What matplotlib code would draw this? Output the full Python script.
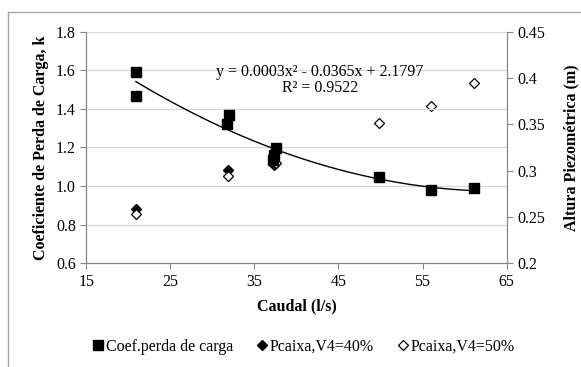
import numpy as np
import matplotlib.pyplot as plt
from matplotlib.lines import Line2D

# Caudal (l/s) e coeficiente de perda de carga
caudal_k = [20.9, 20.9, 31.7, 31.95, 37.2, 37.3, 37.6, 49.8, 55.95, 61.1]
coef_k = [1.59, 1.468, 1.32, 1.368, 1.135, 1.16, 1.196, 1.046, 0.98, 0.989]

# Altura piezométrica na caixa (m)
caudal_40 = [20.9, 31.8, 37.3]
pcaixa_40 = [0.2586, 0.3007, 0.306]
caudal_50 = [20.9, 31.8, 37.6, 49.8, 55.95, 61.1]
pcaixa_50 = [0.2535, 0.2945, 0.3085, 0.351, 0.370, 0.395]

eq_text = "y = 0.0003x² - 0.0365x + 2.1797"
r2_text = "R² = 0.9522"

plt.rcParams["font.family"] = ["Liberation Serif", "DejaVu Serif"]
plt.rcParams["font.size"] = 11.5

grey = "#868686"

fig = plt.figure(figsize=(5.81, 3.67), dpi=100)
ax = fig.add_axes([0.1485, 0.2826, 0.7235, 0.631])
ax2 = ax.twinx()

# polynomial trendline (2nd order) over the measured range
coefs = np.polyfit(caudal_k, coef_k, 2)
xs = np.linspace(min(caudal_k), max(caudal_k), 200)
ax.plot(xs, np.polyval(coefs, xs), color="black", lw=1, zorder=3)

ax.plot(caudal_k, coef_k, "s", color="black", ms=7, zorder=4,
        label="Coef.perda de carga")
ax2.plot(caudal_40, pcaixa_40, "D", color="black", ms=5, zorder=2,
         label="Pcaixa,V4=40%")
ax2.plot(caudal_50, pcaixa_50, "D", mfc="white", mec="black", ms=5, mew=0.9,
         zorder=2, label="Pcaixa,V4=50%")

ax.set_zorder(ax2.get_zorder() + 1)
ax.patch.set_visible(False)

ax.set_xlim(15, 65)
ax.set_xticks(np.arange(15, 66, 10))
ax.set_ylim(0.6, 1.8)
ax.set_yticks(np.arange(0.6, 1.81, 0.2))
ax.set_yticklabels([f"{v:.1f}" for v in np.arange(0.6, 1.81, 0.2)])
ax2.set_ylim(0.2, 0.45)
ax2.set_yticks([0.2, 0.25, 0.3, 0.35, 0.4, 0.45])
ax2.set_yticklabels(["0.2", "0.25", "0.3", "0.35", "0.4", "0.45"])

ax.grid(axis="y", color="#d9d9d9", lw=0.9)
ax.set_axisbelow(True)

for a in (ax, ax2):
    a.spines["top"].set_visible(False)
    for s in ("left", "right", "bottom"):
        a.spines[s].set_color(grey)
    a.tick_params(color=grey, length=4, labelsize=11.5)

ax.set_xlabel("Caudal (l/s)", fontweight="bold", labelpad=6)
ax.set_ylabel("Coeficiente de Perda de Carga, k", fontweight="bold", labelpad=5)
ax2.set_ylabel("Altura Piezométrica (m)", fontweight="bold", labelpad=13)

ax.text(0.555, 0.826, eq_text, transform=ax.transAxes, ha="center",
        va="center")
ax.text(0.556, 0.757, r2_text, transform=ax.transAxes, ha="center",
        va="center")

h1, l1 = ax.get_legend_handles_labels()
h2, l2 = ax2.get_legend_handles_labels()
fig.legend(h1 + h2, l1 + l2, loc="center", bbox_to_anchor=(0.523, 0.055),
           ncol=3, frameon=False, handlelength=0.6, handletextpad=0.2,
           columnspacing=1.5, fontsize=11.5)

# outer chart border: only top and left edges fall inside the image
fig.add_artist(Line2D([0.0138, 1.0], [0.967, 0.967], color="#a6a6a6", lw=1))
fig.add_artist(Line2D([0.0138, 0.0138], [0.0, 0.967], color="#a6a6a6", lw=1))

fig.savefig("out.png", dpi=100)
